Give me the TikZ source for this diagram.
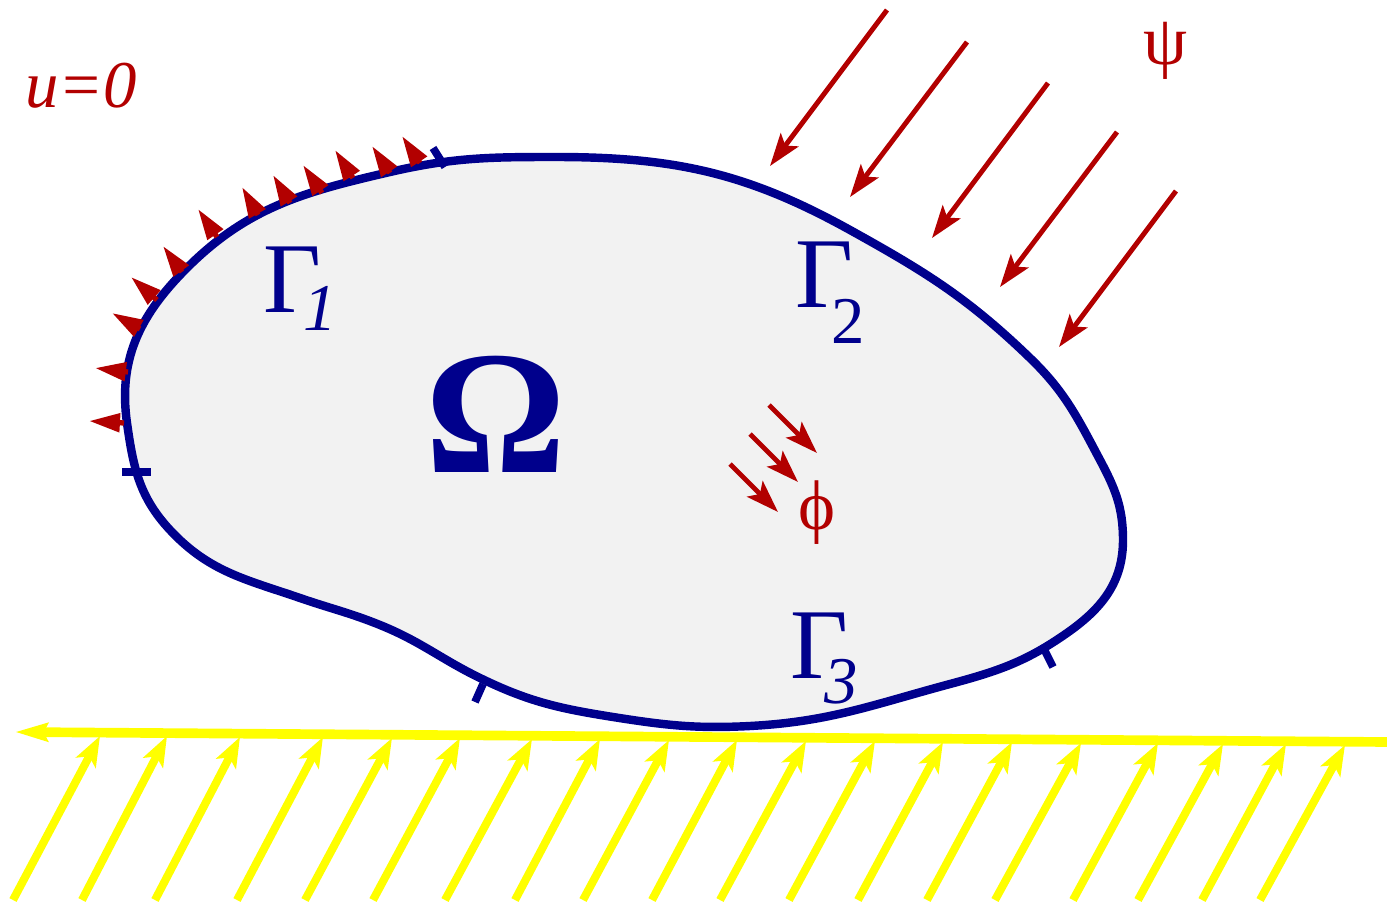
\documentclass[tikz,border=0pt]{standalone}
\usepackage{fontspec}
\setmainfont{Liberation Serif}
\usetikzlibrary{arrows.meta}
\definecolor{domfill}{gray}{0.95}
\definecolor{bndcol}{RGB}{0,0,140}
\definecolor{loadred}{RGB}{178,0,0}
\definecolor{flowyel}{RGB}{255,255,0}
\tikzset{
  bnd/.style={draw=bndcol,line width=4.8pt,line join=round},
  bndtick/.style={draw=bndcol,line width=4.4pt},
  outarr/.style={draw=loadred,line width=3pt,-{Triangle[length=6.2mm,width=3.6mm]}},
  inarr/.style={draw=loadred,line width=2.8pt,-{Stealth[length=6.5mm,width=4.4mm,inset=1.4mm]}},
  yelarr/.style={draw=flowyel,line width=4.6pt,-{Stealth[length=6mm,width=4.4mm,inset=1.4mm]}},
  yelline/.style={draw=flowyel,line width=5.5pt,-{Stealth[length=6.5mm,width=3.6mm,inset=0.8mm]}},
  glab/.style={text=bndcol,inner sep=0pt,anchor=base west,font=\fontsize{57}{57}\selectfont},
  rlab/.style={text=loadred,inner sep=0pt},
}

\begin{document}
\begin{tikzpicture}[x=0.2mm,y=-0.2mm]
  \useasboundingbox (0,0) rectangle (1387,905);
  % ground line and flux arrows
  \draw[yelline] (1387,742) -- (15,732);
  \draw[yelarr] (13,900) -- (100,736);
  \draw[yelarr] (82,900) -- (167,736);
  \draw[yelarr] (155,900) -- (240,737);
  \draw[yelarr] (237,900) -- (323,737);
  \draw[yelarr] (305,900) -- (392,738);
  \draw[yelarr] (373,900) -- (460,738);
  \draw[yelarr] (445,900) -- (532,739);
  \draw[yelarr] (515,900) -- (600,739);
  \draw[yelarr] (583,900) -- (669,740);
  \draw[yelarr] (652,900) -- (737,740);
  \draw[yelarr] (720,900) -- (806,741);
  \draw[yelarr] (789,900) -- (875,741);
  \draw[yelarr] (858,900) -- (943,742);
  \draw[yelarr] (927,900) -- (1012,742);
  \draw[yelarr] (995,900) -- (1081,743);
  \draw[yelarr] (1073,900) -- (1158,743);
  \draw[yelarr] (1138,900) -- (1223,744);
  \draw[yelarr] (1202,900) -- (1286,744);
  \draw[yelarr] (1260,900) -- (1345,745);
  % domain
  \filldraw[bnd,fill=domfill] (555,157)
    to[out=0,in=151] (850,230)
    to[out=-29,in=136] (1030,358)
    to[out=-44,in=118] (1100,460)
    to[out=-62,in=90] (1123,540)
    to[out=-90,in=35] (1067,633)
    to[out=-145,in=15] (950,684)
    to[out=-165,in=3] (750,726)
    to[out=-177,in=-9] (613,717)
    to[out=171,in=-26] (480,678)
    to[out=154,in=-22] (380,625)
    to[out=158,in=-19] (300,598)
    to[out=161,in=-47] (170,530)
    to[out=133,in=-82] (127,423)
    to[out=98,in=-134] (182,273)
    to[out=46,in=-167] (390,172)
    to[out=13,in=180] (555,157) -- cycle;
  \draw[bndtick] (433,148) -- (445,167);
  \draw[bndtick] (122,472) -- (151,472);
  \draw[bndtick] (483,684) -- (475,702);
  \draw[bndtick] (1043,647) -- (1053,667);
  % Dirichlet part
  \draw[outarr] (124,423) -- (89,421);
  \draw[outarr] (128,372) -- (95,368);
  \draw[outarr] (140,329) -- (112,313);
  \draw[outarr] (157,300) -- (131,277);
  \draw[outarr] (182,272) -- (163,246);
  \draw[outarr] (217,237) -- (198,209);
  \draw[outarr] (258,215) -- (242,187);
  \draw[outarr] (290,203) -- (273,175);
  \draw[outarr] (322,193) -- (303,165);
  \draw[outarr] (353,178) -- (335,150);
  \draw[outarr] (390,173) -- (372,146);
  \draw[outarr] (420,163) -- (402,136);
  % incoming flux
  \draw[inarr] (887,10) -- (770,166);
  \draw[inarr] (967,42) -- (850,197);
  \draw[inarr] (1048,83) -- (932,238);
  \draw[inarr] (1117,132) -- (1000,287);
  \draw[inarr] (1176,191) -- (1059,347);
  % source
  \draw[inarr] (769,405) -- (817,453);
  \draw[inarr] (750,434) -- (798,482);
  \draw[inarr] (730,464) -- (778,512);
  % labels
  \node[rlab,anchor=base west,font=\fontsize{38}{38}\selectfont\itshape] (ubc) at (25,108) {u=0};
  \node[rlab,font=\fontsize{40}{40}\selectfont] (psi) at (1165,51) {ψ};
  \node[rlab,font=\fontsize{40}{40}\selectfont] (phi) at (817,513) {ϕ};
  \node[text=bndcol,inner sep=0pt,font=\fontsize{100}{100}\selectfont\bfseries] (omega) at (496,414) {Ω};
  \node[glab] (g1) at (263,313) {Γ\kern-0.18em\raisebox{-0.17em}{\fontsize{38}{38}\selectfont\itshape 1}};
  \node[glab] (g2) at (795,308) {Γ\kern-0.22em\raisebox{-0.35em}{\fontsize{38}{38}\selectfont 2}};
  \node[glab] (g3) at (790,678) {Γ\kern-0.24em\raisebox{-0.25em}{\fontsize{38}{38}\selectfont\itshape 3}};
\end{tikzpicture}
\end{document}
